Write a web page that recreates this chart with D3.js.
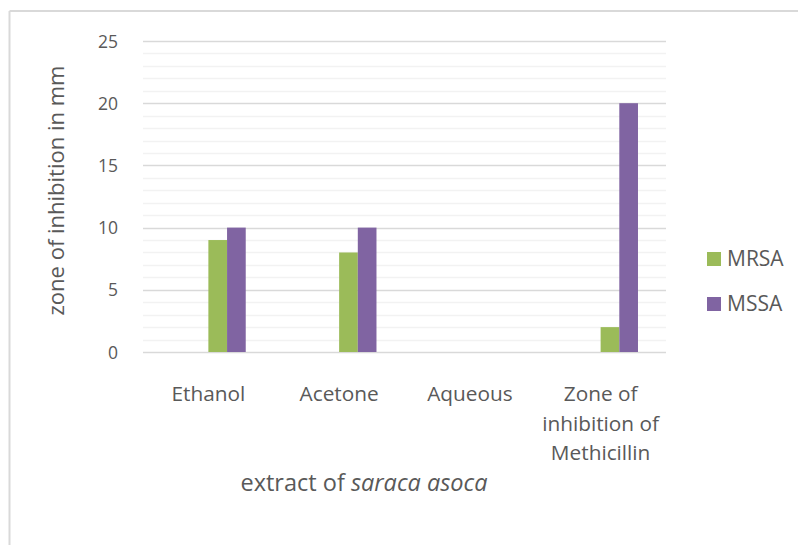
<!DOCTYPE html>
<html>
<head>
<meta charset="utf-8">
<script src="https://cdn.jsdelivr.net/npm/d3@7"></script>
<style>
  html, body { margin: 0; padding: 0; background: #fff; }
  svg { display: block; }
  text { font-family: "Open Sans", "Liberation Sans", sans-serif; fill: #595959; }
</style>
</head>
<body>
<svg id="chart" width="798" height="545"></svg>
<script>
// ---- data ----
const categories = ["Ethanol", "Acetone", "Aqueous", "Zone of inhibition of Methicillin"];
const categoryLines = [["Ethanol"], ["Acetone"], ["Aqueous"], ["Zone of", "inhibition of", "Methicillin"]];
// the source chart reserves two empty series slots before MRSA and MSSA
const seriesSlots = ["blank1", "blank2", "MRSA", "MSSA"];
const legendSeries = ["MRSA", "MSSA"];
const mrsaValues = [9, 8, 0, 2];
const mssaValues = [10, 10, 0, 20];
const yTicks = [0, 5, 10, 15, 20, 25];
const yTitle = "zone of inhibition in mm";
const xTitleNormal = "extract of ";
const xTitleItalic = "saraca asoca";

const seriesValues = { MRSA: mrsaValues, MSSA: mssaValues };
const colors = { MRSA: "#9bbb59", MSSA: "#8064a2" };

const svg = d3.select("#chart");
const W = 798, H = 545;
const plot = { left: 143, right: 666, top: 41, bottom: 352 };

// frame
svg.append("line").attr("x1", 9.5).attr("x2", W).attr("y1", 11).attr("y2", 11)
  .attr("stroke", "#d9d9d9").attr("stroke-width", 2);
svg.append("line").attr("x1", 9.5).attr("x2", 9.5).attr("y1", 11).attr("y2", H)
  .attr("stroke", "#d9d9d9").attr("stroke-width", 2);

const y = d3.scaleLinear().domain([0, 25]).range([plot.bottom, plot.top]);
const x0 = d3.scaleBand().domain(categories).range([plot.left, plot.right]).padding(0);
const x1 = d3.scaleBand().domain(seriesSlots).range([0, x0.bandwidth()])
  .paddingInner(0).paddingOuter(1.5);

// minor gridlines
const minorTicks = d3.range(0, 26, 1).filter(v => v % 5 !== 0);
svg.append("g").selectAll("line").data(minorTicks).join("line")
  .attr("x1", plot.left).attr("x2", plot.right)
  .attr("y1", d => Math.round(y(d)) + 0.5).attr("y2", d => Math.round(y(d)) + 0.5)
  .attr("stroke", "#f2f2f2").attr("stroke-width", 1.5);

// major gridlines
svg.append("g").selectAll("line").data(yTicks).join("line")
  .attr("x1", plot.left).attr("x2", plot.right)
  .attr("y1", d => Math.round(y(d)) + 0.5).attr("y2", d => Math.round(y(d)) + 0.5)
  .attr("stroke", "#d9d9d9").attr("stroke-width", 1.5);

// y axis labels
const yAxis = d3.axisLeft(y).tickValues(yTicks).tickSize(0).tickPadding(0);
const gy = svg.append("g").attr("transform", `translate(${plot.left - 25},0)`).call(yAxis);
gy.select(".domain").remove();
gy.selectAll("text").attr("font-size", 17.5).attr("fill", "#595959")
  .attr("font-family", "Open Sans").attr("dy", "0.35em");

// bars
const groups = svg.append("g").selectAll("g").data(categories).join("g")
  .attr("transform", d => `translate(${x0(d)},0)`);
groups.selectAll("rect")
  .data((d, i) => legendSeries.map(s => ({ s, v: seriesValues[s][i] })))
  .join("rect")
  .attr("x", d => x1(d.s))
  .attr("width", x1.bandwidth())
  .attr("y", d => y(d.v))
  .attr("height", d => y(0) - y(d.v))
  .attr("fill", d => colors[d.s]);

// x category labels
const xl = svg.append("g").selectAll("text").data(categories).join("text")
  .attr("x", d => x0(d) + x0.bandwidth() / 2)
  .attr("y", 401)
  .attr("text-anchor", "middle")
  .attr("font-size", 20.8);
xl.each(function (d, i) {
  const t = d3.select(this);
  categoryLines[i].forEach((ln, j) => {
    t.append("tspan").attr("x", x0(d) + x0.bandwidth() / 2).attr("dy", j === 0 ? 0 : 29.7).text(ln);
  });
});

// y title
svg.append("text")
  .attr("transform", `translate(64,${(plot.top + plot.bottom) / 2 - 6}) rotate(-90)`)
  .attr("text-anchor", "middle")
  .attr("font-size", 22)
  .text(yTitle);

// x title
const xt = svg.append("text")
  .attr("x", 364).attr("y", 491)
  .attr("text-anchor", "middle")
  .attr("font-size", 23.5);
xt.append("tspan").text(xTitleNormal);
xt.append("tspan").attr("font-style", "italic").text(xTitleItalic);

// legend
const lg = svg.append("g").selectAll("g").data(legendSeries).join("g")
  .attr("transform", (d, i) => `translate(707,${252 + i * 45})`);
lg.append("rect").attr("width", 14).attr("height", 14).attr("fill", d => colors[d]);
lg.append("text").attr("x", 20).attr("y", 13.5).attr("font-size", 21).text(d => d);
</script>
</body>
</html>
